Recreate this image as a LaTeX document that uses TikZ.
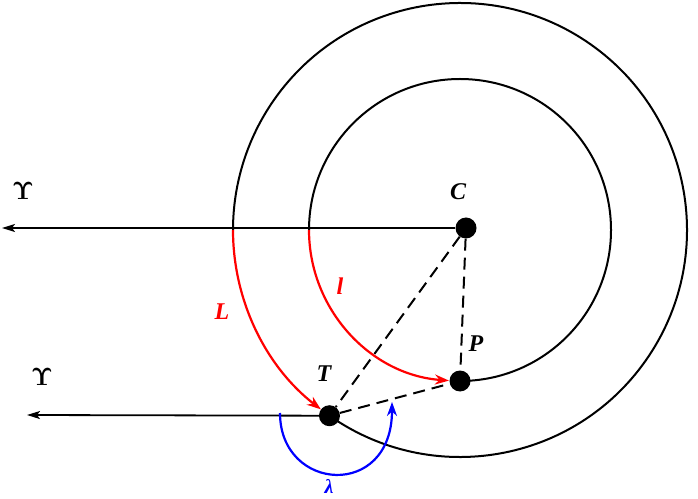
\documentclass[tikz,border=0pt]{standalone}
\usepackage{fontspec}
\setmainfont{Liberation Serif}
\usetikzlibrary{arrows.meta,calc}
\begin{document}
\begin{tikzpicture}[x=1pt,y=1pt,
  dot/.style={circle,fill=black,minimum size=21pt,inner sep=0pt},
  lbl/.style={font=\fontsize{24}{28}\selectfont\bfseries\itshape},
  greek/.style={font=\fontsize{24}{28}\selectfont\mathversion{bold}},
  curve/.style={line width=2pt},
  dashline/.style={line width=2pt,dash pattern=on 12pt off 7pt},
  redarc/.style={line width=2.2pt,red,-{Stealth[length=14pt,width=10pt]}},
  axarrow/.style={line width=1.8pt,-{Stealth[length=13pt,width=8pt,inset=3pt]}}]
\useasboundingbox (0,0) rectangle (698,498);
\coordinate (O) at (460,268);
\node[dot] (C) at (466,270) {};
\node[dot] (T) at ($(O)+(234.9:227)$) {};
\node[dot] (P) at ($(O)+(270:151)$) {};
\coordinate (U1) at (2,270);
\coordinate (U2) at (27,83);
% circles (black parts)
\draw[curve] ($(O)+(234.9:227)$) arc[start angle=234.9,end angle=540,radius=227];
\draw[curve] ($(O)+(270:151)$) arc[start angle=270,end angle=540,radius=151];
% horizontal lines
\draw[axarrow] (C) -- (U1);
\draw[axarrow] (T) -- (U2);
% red arcs
\draw[redarc] ($(O)+(180:227)$) arc[start angle=180,end angle=232.2,radius=227];
\draw[redarc] ($(O)+(180:151)$) arc[start angle=180,end angle=265.8,radius=151];
% dashed triangle
\draw[dashline] (C) -- (T);
\draw[dashline] (C) -- (P);
\draw[dashline] (T) -- (P);
% blue angle arc
\coordinate (B1) at (280,85);
\coordinate (B2) at (392,96);
\draw[blue,line width=2.2pt,-{Stealth[length=14pt,width=10pt]}] (B1) .. controls (280,6) and (392,-2) .. (B2);
% labels
\node[greek] (u1) at (23,307) {$\Upsilon$};
\node[greek] (u2) at (42,121) {$\Upsilon$};
\node[lbl] (lc) at (458,306) {C};
\node[lbl] (lt) at (324,124) {T};
\node[lbl] (lp) at (476,154) {P};
\node[lbl,red] (lL) at (222,186) {L};
\node[lbl,red] (ll) at (340,212) {l};
\node[lbl,blue,font=\fontsize{20}{24}\selectfont\bfseries\itshape] (lam) at (329,12) {λ};
\end{tikzpicture}
\end{document}
